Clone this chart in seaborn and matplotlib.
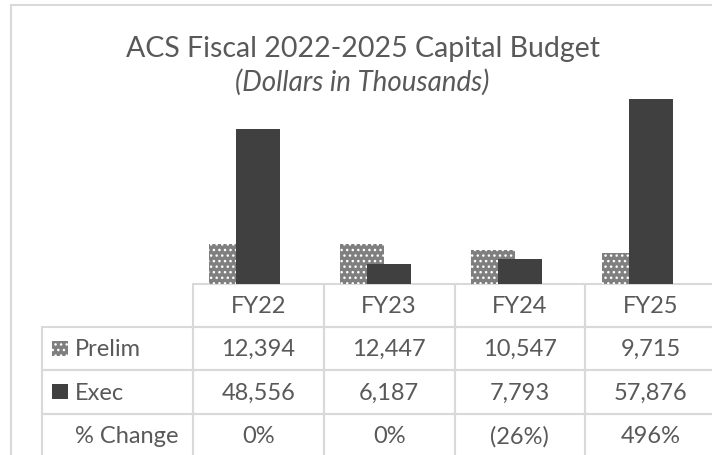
import matplotlib
matplotlib.use("Agg")
import matplotlib.pyplot as plt
from matplotlib.patches import Rectangle
import seaborn as sns
import pandas as pd

# data
years = ["FY22", "FY23", "FY24", "FY25"]
prelim = [12394, 12447, 10547, 9715]
execb = [48556, 6187, 7793, 57876]
pct_change = ["0%", "0%", "(26%)", "496%"]
series = ["Prelim", "Exec"]
row_labels = ["Prelim", "Exec", "% Change"]

TEXT = "#595959"
GRID = "#d9d9d9"
PRELIM_C = "#7f7f7f"
EXEC_C = "#404040"
W, H = 712, 456

sns.set_theme(style="white")
plt.rcParams["font.family"] = ["Lato", "DejaVu Sans"]

df = pd.DataFrame({
    "year": years * 2,
    "value": prelim + execb,
    "series": ["Prelim"] * 4 + ["Exec"] * 4,
})


def fx(x):
    return x / W


def fy(y):
    return 1 - y / H


fig = plt.figure(figsize=(W / 100, H / 100), dpi=100)

# chart area border (right/bottom cut off in the reference)
fig.patches.append(Rectangle((fx(10.5), fy(470)), fx(720), fy(5.5) - fy(470),
                             transform=fig.transFigure, fill=False,
                             edgecolor=GRID, linewidth=1.5))

ax = fig.add_axes([fx(192.1), fy(284.5), fx(524), 191 / H])
sns.barplot(data=df, x="year", y="value", hue="series", hue_order=series,
            palette=[PRELIM_C, EXEC_C], saturation=1, width=0.412, gap=-0.63,
            linewidth=0, legend=False, ax=ax)

for bar in ax.containers[0]:
    bar.set_hatch("...")
    bar.set_edgecolor("white")
    bar.set_linewidth(0)

ax.set_xlim(-0.4, 3.6)
ax.set_ylim(0, 60000)
ax.set_axis_off()

# data table under the bars (first column holds the row labels)
cells = [[lab] + vals for lab, vals in zip(
    row_labels, [[f"{v:,}" for v in prelim], [f"{v:,}" for v in execb], pct_change])]
tbl = ax.table(cellText=cells, colLabels=[""] + years, cellLoc="center",
               colLoc="center", colWidths=[0.25 * 151 / 130.8] + [0.25] * 4,
               bbox=[-0.2864, -0.91, 1.2864, 0.91])
tbl.auto_set_font_size(False)
tbl.set_fontsize(17)
for (r, c), cell in tbl.get_celld().items():
    cell.set_edgecolor(GRID)
    cell.set_linewidth(1.5)
    cell.set_facecolor("none")
    cell.get_text().set_color(TEXT)
    if c == 0:
        cell.get_text().set_ha("left")
        cell.PAD = 0.22
tbl[0, 0].set_visible(False)

# legend keys inside the row labels
fig.patches.append(Rectangle((fx(52), fy(357)), fx(16), 15 / H, transform=fig.transFigure,
                             facecolor=PRELIM_C, edgecolor="white", linewidth=0, hatch="..."))
fig.patches.append(Rectangle((fx(52), fy(399.5)), fx(16), 15 / H, transform=fig.transFigure,
                             facecolor=EXEC_C, linewidth=0))

fig.text(fx(362.5), fy(57), "ACS Fiscal 2022-2025 Capital Budget", ha="center",
         va="baseline", fontsize=20.5, color=TEXT)
fig.text(fx(362.5), fy(91), "(Dollars in Thousands)", ha="center", va="baseline",
         fontsize=20, style="italic", color=TEXT)

fig.savefig("out.png", dpi=100)
